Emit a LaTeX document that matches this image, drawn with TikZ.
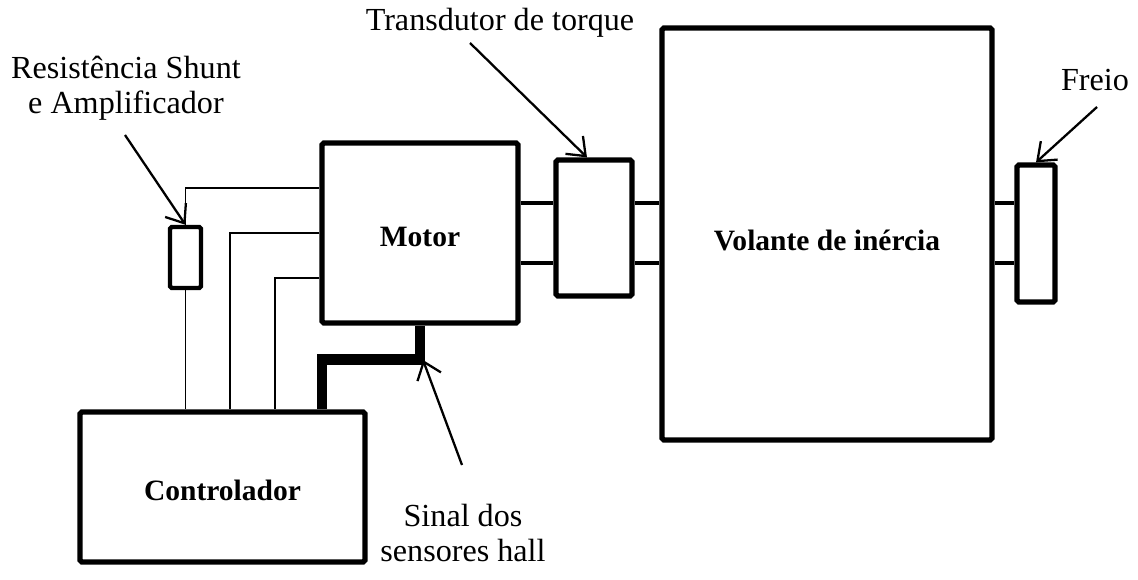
\documentclass[tikz,border=0pt]{standalone}
\usepackage{fontspec}
\setmainfont{Liberation Serif}
\usetikzlibrary{arrows.meta}

\tikzset{
  block/.style={draw, line width=3pt, rounded corners=1pt, inner sep=0pt},
  shaft/.style={line width=2.7pt},
  wire/.style={line width=1.1pt},
  hallwire/.style={line width=6pt},
  pointer/.style={line width=1.3pt, -{Straight Barb[length=3.2mm,width=5mm,line width=1.3pt]}},
  caption/.style={align=center, font=\fontsize{18.3}{19.8}\selectfont},
  heading/.style={font=\bfseries\fontsize{16.8}{20}\selectfont}
}

\begin{document}
\begin{tikzpicture}[x=0.02cm,y=-0.02cm]
\useasboundingbox (0,0) rectangle (1138,580);

% main blocks
\node[block, minimum width=3.92cm, minimum height=3.6cm] (motor) at (420,233) {};
\node[heading] at (420,237) {Motor};
\node[block, minimum width=1.52cm, minimum height=2.72cm] (torque) at (594,228) {};
\node[block, minimum width=6.6cm, minimum height=8.24cm] (flywheel) at (827,234) {};
\node[heading] at (827,240) {Volante de inércia};
\node[block, minimum width=0.76cm, minimum height=2.74cm] (brake) at (1036,233.5) {};
\node[block, line width=2.5pt, minimum width=0.62cm, minimum height=1.22cm] (shunt) at (185.5,257.5) {};
\node[block, minimum width=5.7cm, minimum height=3cm] (ctrl) at (222.5,487) {};
\node[heading] at (222.5,490) {Controlador};

% shafts
\draw[shaft] (motor.east |- 0,203) -- (torque.west |- 0,203);
\draw[shaft] (motor.east |- 0,263) -- (torque.west |- 0,263);
\draw[shaft] (torque.east |- 0,203) -- (flywheel.west |- 0,203);
\draw[shaft] (torque.east |- 0,263) -- (flywheel.west |- 0,263);
\draw[shaft] (flywheel.east |- 0,203) -- (brake.west |- 0,203);
\draw[shaft] (flywheel.east |- 0,263) -- (brake.west |- 0,263);

% motor phases
\draw[wire] (shunt.north) |- (motor.west |- 0,188);
\draw[wire] (shunt.south) -- (shunt.south |- ctrl.north);
\draw[wire] (motor.west |- 0,233) -| (ctrl.north -| 230,0);
\draw[wire] (motor.west |- 0,278) -| (ctrl.north -| 275,0);
\draw[hallwire] (motor.south) -- ++(0,34) -| (ctrl.north -| 322,0);

% labels
\node[caption] (shuntlabel) at (126,88) {Resistência Shunt\\e Amplificador};
\node[caption] (torquelabel) at (500,23) {Transdutor de torque};
\node[caption] (brakelabel) at (1095,80) {Freio};
\node[caption] (halllabel) at (463,533) {Sinal dos\\sensores hall};

\coordinate (shunttail) at (125,135);
\coordinate (torquetail) at (470,43);
\coordinate (braketail) at (1097,107);
\coordinate (halltail) at (462,465);
\coordinate (hallcorner) at (423,360);

\draw[pointer] (shunttail) -- (shunt.north);
\draw[pointer] (torquetail) -- ([xshift=-4pt]torque.north);
\draw[pointer] (braketail) -- (brake.north);
\draw[pointer] (halltail) -- (hallcorner);
\end{tikzpicture}
\end{document}
